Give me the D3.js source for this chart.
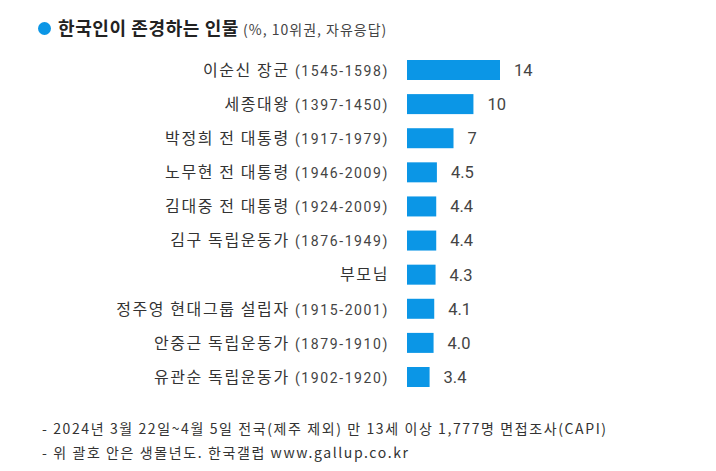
<!DOCTYPE html>
<html><head><meta charset="utf-8">
<script src="https://cdn.jsdelivr.net/npm/d3@7"></script>
<style>
html,body{margin:0;padding:0;background:#fff;}
svg{display:block;font-family:"Noto Sans CJK KR","Noto Sans",sans-serif;}
</style></head>
<body>
<svg id="chart" width="716" height="471"></svg>
<script>
const names = ["이순신 장군","세종대왕","박정희 전 대통령","노무현 전 대통령","김대중 전 대통령","김구 독립운동가","부모님","정주영 현대그룹 설립자","안중근 독립운동가","유관순 독립운동가"];
const years = ["(1545-1598)","(1397-1450)","(1917-1979)","(1946-2009)","(1924-2009)","(1876-1949)","","(1915-2001)","(1879-1910)","(1902-1920)"];
const values = [14,10,7,4.5,4.4,4.4,4.3,4.1,4.0,3.4];
const valueLabels = ["14","10","7","4.5","4.4","4.4","4.3","4.1","4.0","3.4"];
const titleMain = "한국인이 존경하는 인물";
const titleSub = " (%, 10위권, 자유응답)";
const notes = ["- 2024년 3월 22일~4월 5일 전국(제주 제외) 만 13세 이상 1,777명 면접조사(CAPI)","- 위 괄호 안은 생몰년도. 한국갤럽 www.gallup.co.kr"];

const svg = d3.select("#chart");
const blue = "#0b96e6";
const textColor = "#333";

const x = d3.scaleLinear().domain([0,14]).range([407,500]);
const y = d3.scalePoint().domain(d3.range(names.length)).range([70,377]);
const barH = 20;

// title
svg.append("circle").attr("cx",44.5).attr("cy",28.5).attr("r",6.5).attr("fill",blue);
const t = svg.append("text").attr("x",58).attr("y",35).attr("fill","#222");
t.append("tspan").attr("font-size",18).attr("font-weight","bold").attr("letter-spacing",0.6).text(titleMain);
t.append("tspan").attr("font-size",14).attr("fill","#444").attr("letter-spacing",1.0).text(titleSub);

const rows = svg.append("g").selectAll("g").data(values).join("g");
rows.append("rect")
  .attr("x",x(0)).attr("y",(d,i)=>y(i)-barH/2)
  .attr("width",d=>x(d)-x(0)).attr("height",barH).attr("fill",blue);
rows.append("text")
  .attr("x",d=>x(d)+14).attr("y",(d,i)=>y(i)).attr("dy","0.36em")
  .attr("font-size",16.5).attr("fill","#444")
  .attr("font-family","Roboto, 'Noto Sans', sans-serif")
  .text((d,i)=>valueLabels[i]);
const lab = rows.append("text")
  .attr("x",389).attr("y",(d,i)=>y(i)).attr("dy","0.36em")
  .attr("text-anchor","end").attr("fill",textColor);
lab.append("tspan").attr("font-size",16).attr("letter-spacing",1.6).text((d,i)=>names[i] + (years[i] ? " " : ""));
lab.append("tspan").attr("font-size",14).attr("fill","#444").attr("letter-spacing",1.6)
  .attr("font-family","Roboto, 'Noto Sans', sans-serif").text((d,i)=>years[i]);

svg.append("g").selectAll("text").data(notes).join("text")
  .attr("x",42).attr("y",(d,i)=>434+i*24).attr("font-size",14).attr("letter-spacing",1.6).attr("fill",textColor)
  .text(d=>d);
</script>
</body></html>
